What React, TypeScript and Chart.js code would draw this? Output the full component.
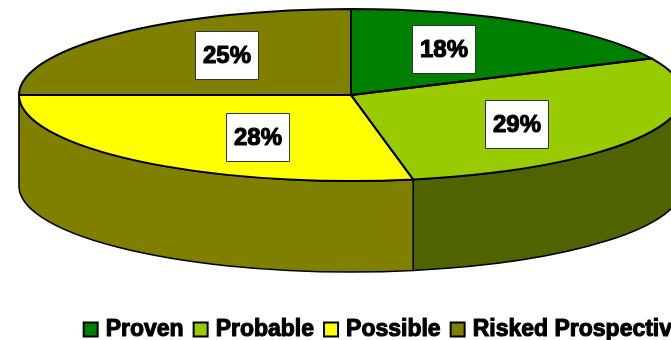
import React, { useEffect, useRef } from "react";
import { Chart, registerables } from "chart.js";

Chart.register(...registerables);

const categories = ["Proven", "Probable", "Possible", "Risked Prospective"];
const shares = [18, 29, 28, 25];
const topColors = ["#008000", "#99CC00", "#FFFF00", "#808000"];
const sideColors = ["#004000", "#4F6400", "#808000", "#404000"];

// Tilted-disc geometry, in canvas pixels.
const CX = 351;
const CY = 95;
const RX = 332;
const RY = 86;
const DEPTH = 91;

// Where each percentage tag sits, as a fraction of the radius along each axis.
const tagFractions = [
  [0.52, 0.64],
  [0.56, 0.73],
  [0.44, 0.63],
  [0.53, 0.66],
];

function boldText(ctx: CanvasRenderingContext2D, text: string, x: number, y: number, size: number) {
  ctx.font = `bold ${size}px "Liberation Sans", Arial, sans-serif`;
  ctx.fillStyle = "#000";
  ctx.strokeStyle = "#000";
  ctx.lineWidth = 1.1;
  ctx.lineJoin = "round";
  ctx.textBaseline = "middle";
  ctx.fillText(text, x, y);
  ctx.strokeText(text, x, y);
}

const tiltedPie = {
  id: "tiltedPie",
  beforeDatasetsDraw(chart: any) {
    const ctx: CanvasRenderingContext2D = chart.ctx;
    const arcs = chart.getDatasetMeta(0).data;

    // Visible wall: only the part of each slice facing the viewer.
    ctx.save();
    ctx.lineWidth = 1.6;
    ctx.strokeStyle = "#000";
    arcs.forEach((arc: any, i: number) => {
      const a = Math.max(arc.startAngle, 0);
      const b = Math.min(arc.endAngle, Math.PI);
      if (b <= a) return;
      ctx.beginPath();
      ctx.ellipse(CX, CY, RX, RY, 0, a, b);
      ctx.ellipse(CX, CY + DEPTH, RX, RY, 0, b, a, true);
      ctx.closePath();
      ctx.fillStyle = sideColors[i];
      ctx.fill();
      ctx.stroke();
    });
    ctx.restore();

    // The library's own arcs get drawn through this squash.
    const first = arcs[0];
    const r = first.outerRadius;
    ctx.save();
    ctx.translate(CX, CY);
    ctx.scale(RX / r, RY / r);
    ctx.translate(-first.x, -first.y);
  },
  afterDatasetsDraw(chart: any) {
    const ctx: CanvasRenderingContext2D = chart.ctx;
    ctx.restore();
    const arcs = chart.getDatasetMeta(0).data;

    ctx.save();
    ctx.strokeStyle = "#000";
    ctx.lineWidth = 2;
    arcs.forEach((arc: any) => {
      ctx.beginPath();
      ctx.moveTo(CX, CY);
      ctx.ellipse(CX, CY, RX, RY, 0, arc.startAngle, arc.endAngle);
      ctx.closePath();
      ctx.stroke();
    });

    // Percentage tags.
    arcs.forEach((arc: any, i: number) => {
      const mid = (arc.startAngle + arc.endAngle) / 2;
      const x = CX + RX * tagFractions[i][0] * Math.cos(mid);
      const y = CY + RY * tagFractions[i][1] * Math.sin(mid);
      const w = 63;
      const h = 48;
      const left = Math.round(x - w / 2) + 0.5;
      const top = Math.round(y - h / 2) + 0.5;
      ctx.fillStyle = "#fff";
      ctx.fillRect(left, top, w, h);
      ctx.strokeStyle = "#333";
      ctx.lineWidth = 1;
      ctx.strokeRect(left, top, w, h);
      ctx.textAlign = "center";
      boldText(ctx, `${shares[i]}%`, left + w / 2, top + h / 2 + 1, 24);
    });
    ctx.restore();
  },
  afterDraw(chart: any) {
    // Legend captions sit closer to their swatches than the default spacing.
    const ctx: CanvasRenderingContext2D = chart.ctx;
    const legend = chart.legend;
    ctx.save();
    ctx.textAlign = "left";
    legend.legendItems.forEach((item: any, i: number) => {
      const hit = legend.legendHitBoxes[i];
      boldText(ctx, item.text, hit.left + 22, hit.top + hit.height / 2, 23);
    });
    ctx.restore();
  },
};

export default function App() {
  const ref = useRef<HTMLCanvasElement>(null);

  useEffect(() => {
    document.body.style.margin = "0";
    document.body.style.overflow = "hidden";
    const chart = new Chart(ref.current!, {
      type: "pie",
      data: {
        labels: categories,
        datasets: [
          {
            data: shares,
            backgroundColor: topColors,
            borderWidth: 0,
            clip: false,
          } as any,
        ],
      },
      options: {
        responsive: false,
        animation: false,
        layout: { padding: 0 },
        plugins: {
          tooltip: { enabled: false },
          legend: {
            display: true,
            position: "bottom",
            labels: {
              boxWidth: 14,
              boxHeight: 14,
              padding: 6.5,
              font: { family: "Liberation Sans", size: 23, weight: "bold" },
              generateLabels: () =>
                categories.map((text, i) => ({
                  text,
                  fontColor: "transparent",
                  fillStyle: topColors[i],
                  strokeStyle: "#000",
                  lineWidth: 2,
                  index: i,
                })),
            },
          },
        },
      } as any,
      plugins: [tiltedPie],
    });
    return () => chart.destroy();
  }, []);

  return (
    <div style={{ position: "fixed", left: 0, top: 0, width: 671, height: 340, overflow: "hidden", background: "#fff" }}>
      <canvas ref={ref} width={772} height={351} style={{ display: "block" }} />
    </div>
  );
}
